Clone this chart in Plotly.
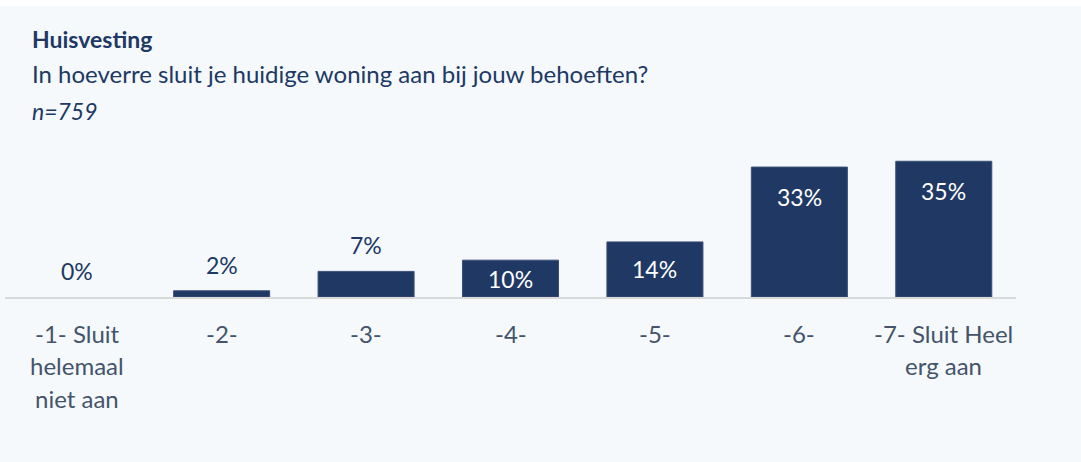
import plotly.graph_objects as go

categories = ["-1- Sluit<br>helemaal<br>niet aan", "-2-", "-3-", "-4-", "-5-", "-6-", "-7- Sluit Heel<br>erg aan"]
values = [0.0, 1.6, 6.6, 9.5, 14.2, 33.5, 35.0]
labels = ["0%", "2%", "7%", "10%", "14%", "33%", "35%"]

NAVY = "#203864"
GREYBLUE = "#44546a"
PANEL = "#f5f9fc"
FONT = "Lato"

W, H = 1081, 462
M_T, M_B, M_L, M_R = 150, 165, 5, 65
Y_MAX = 37.9
PX_PER_UNIT = (H - M_T - M_B) / Y_MAX


def paper_y(px):
    """Pixel row (from top of page) -> paper y."""
    return (H - M_B - px) / (H - M_T - M_B)


def paper_x(px):
    return (px - M_L) / (W - M_L - M_R)


fig = go.Figure(go.Bar(
    x=categories, y=values,
    marker=dict(color=NAVY, line=dict(color="#3c5078", width=[0 if v == 0 else 1 for v in values])),
    hoverinfo="skip",
))

# value labels: small bars above, taller bars inside near the top
for cat, v, lab in zip(categories, values, labels):
    h = v * PX_PER_UNIT
    if v >= 9:
        shift, col = -min(30, h / 2), "white"
    else:
        shift, col = 26, NAVY
    fig.add_annotation(x=cat, y=v, text=lab, showarrow=False, yanchor="middle", yshift=shift,
                       font=dict(family=FONT, size=23, color=col))

# category labels, one annotation per line so the line spacing matches
for cat in categories:
    for i, line in enumerate(cat.split("<br>")):
        fig.add_annotation(x=cat, yref="paper", y=paper_y(333 + i * 32.5), text=line, showarrow=False,
                           yanchor="middle", font=dict(family=FONT, size=24, color=GREYBLUE))

fig.add_annotation(xref="paper", yref="paper", x=paper_x(30), y=paper_y(39), xanchor="left",
                   yanchor="middle", text="<b>Huisvesting</b>", showarrow=False,
                   font=dict(family=FONT, size=23, color=NAVY))
fig.add_annotation(xref="paper", yref="paper", x=paper_x(30), y=paper_y(73), xanchor="left",
                   yanchor="middle", text="In hoeverre sluit je huidige woning aan bij jouw behoeften?",
                   showarrow=False, font=dict(family=FONT, size=24, color=NAVY))
fig.add_annotation(xref="paper", yref="paper", x=paper_x(30), y=paper_y(111), xanchor="left",
                   yanchor="middle", text="<i>n=759</i>", showarrow=False,
                   font=dict(family=FONT, size=23, color=NAVY))

# white strip on top of the panel
fig.add_shape(type="rect", xref="paper", yref="paper", x0=-0.01, x1=1.1, y0=paper_y(6), y1=paper_y(-5),
              fillcolor="white", line_width=0, layer="below")

fig.update_layout(
    width=W, height=H, margin=dict(t=M_T, b=M_B, l=M_L, r=M_R),
    paper_bgcolor=PANEL, plot_bgcolor=PANEL, bargap=0.335, showlegend=False,
    font=dict(family=FONT, color=GREYBLUE, size=20),
    xaxis=dict(showline=True, linecolor="#d9d9d9", linewidth=2, ticks="", showgrid=False,
               showticklabels=False),
    yaxis=dict(visible=False, range=[0, Y_MAX]),
)

fig.write_html("out.html", config={"displayModeBar": False},
               post_script="document.body.style.margin='0';")
